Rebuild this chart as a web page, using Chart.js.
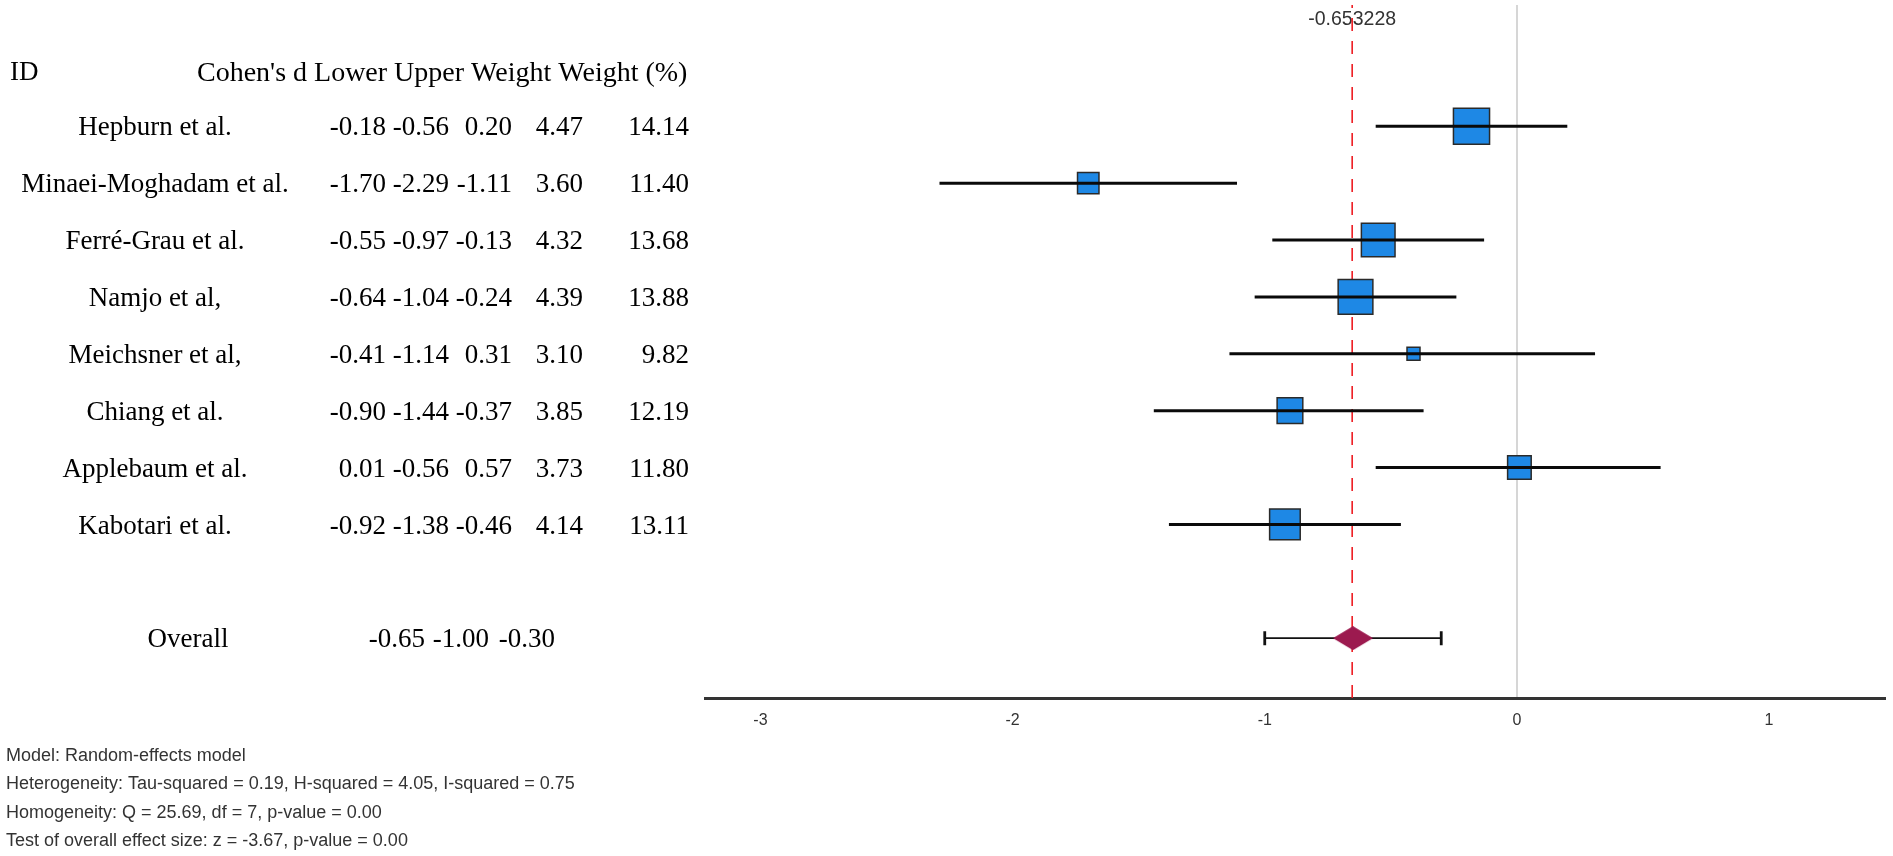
<!DOCTYPE html>
<html>
<head>
<meta charset="utf-8">
<title>Forest plot</title>
<script src="https://cdn.jsdelivr.net/npm/chart.js@4.4.1/dist/chart.umd.min.js"></script>
<style>
  html, body { margin: 0; padding: 0; background: #fff; overflow: hidden; }
  #wrap { position: relative; width: 1893px; height: 856px; }
  canvas { display: block; }
</style>
</head>
<body>
<div id="wrap"><canvas id="forest" width="1893" height="856"></canvas></div>
<script>
// --- Data ---
const studies = ['Hepburn et al.', 'Minaei-Moghadam et al.', 'Ferré-Grau et al.', 'Namjo et al,',
                 'Meichsner et al,', 'Chiang et al.', 'Applebaum et al.', 'Kabotari et al.'];
const cohensD   = [-0.18, -1.70, -0.55, -0.64, -0.41, -0.90, 0.01, -0.92];
const lowerCI   = [-0.56, -2.29, -0.97, -1.04, -1.14, -1.44, -0.56, -1.38];
const upperCI   = [0.20, -1.11, -0.13, -0.24, 0.31, -0.37, 0.57, -0.46];
const weights   = [4.47, 3.60, 4.32, 4.39, 3.10, 3.85, 3.73, 4.14];
const weightPct = [14.14, 11.40, 13.68, 13.88, 9.82, 12.19, 11.80, 13.11];
const overall   = [-0.65, -1.00, -0.30]; // estimate, lower, upper
const pooledLine = -0.653228;
const xTicks = [-3, -2, -1, 0, 1];
const headerCols = ['ID', "Cohen's d Lower Upper Weight Weight (%)"];
const footnotes = [
    'Model: Random-effects model',
    'Heterogeneity: Tau-squared = 0.19, H-squared = 4.05, I-squared = 0.75',
    'Homogeneity: Q = 25.69, df = 7, p-value = 0.00',
    'Test of overall effect size: z = -3.67, p-value = 0.00'
];

const overallRow = studies.length + 2;   // one blank row under the studies
const minPct = Math.min(...weightPct);

// box side grows with the study weight
function boxSide(pct) {
    return 13 + (pct - minPct) * 5.35;
}

// --- Diamond marker for the pooled estimate ---
function makeDiamond(w, h, color) {
    const c = document.createElement('canvas');
    c.width = w;
    c.height = h;
    const g = c.getContext('2d');
    g.fillStyle = color;
    g.beginPath();
    g.moveTo(0, h / 2);
    g.lineTo(w / 2, 0);
    g.lineTo(w, h / 2);
    g.lineTo(w / 2, h);
    g.closePath();
    g.fill();
    return c;
}
const diamond = makeDiamond(40, 24, '#9c1a4f');

// --- Datasets ---
const ciSets = studies.map((s, i) => ({
    label: s,
    data: [{ x: lowerCI[i], y: i + 1 }, { x: upperCI[i], y: i + 1 }],
    showLine: true,
    borderColor: '#0a0a0a',
    borderWidth: 3,
    pointRadius: 0,
    order: 1
}));

const boxSet = {
    label: 'effect',
    data: cohensD.map((d, i) => ({ x: d, y: i + 1 })),
    pointStyle: 'rect',
    pointRadius: ctx => boxSide(weightPct[ctx.dataIndex]) / Math.SQRT2,
    backgroundColor: '#1e88e5',
    borderColor: '#2a2a2a',
    borderWidth: 1.5,
    order: 2
};

const overallCI = {
    label: 'overall ci',
    data: [{ x: overall[1], y: overallRow }, { x: overall[2], y: overallRow }],
    showLine: true,
    borderColor: '#111',
    borderWidth: 1.8,
    pointStyle: 'line',
    rotation: 90,
    pointRadius: 7,
    pointBorderColor: '#111',
    pointBorderWidth: 2.8,
    order: 1
};

const overallPoint = {
    label: 'overall',
    data: [{ x: overall[0], y: overallRow }],
    pointStyle: diamond,
    order: 0
};

// --- Reference line, table and notes ---
const forestText = {
    id: 'forestText',
    beforeDatasetsDraw(chart) {
        const { ctx, chartArea, scales: { x } } = chart;
        const px = x.getPixelForValue(pooledLine);
        ctx.save();
        ctx.font = '19.5px "Liberation Sans"';
        ctx.fillStyle = '#333';
        ctx.textAlign = 'center';
        ctx.textBaseline = 'middle';
        ctx.fillText(String(pooledLine), px, 20);
        ctx.strokeStyle = '#ee1d23';
        ctx.lineWidth = 1.6;
        ctx.setLineDash([13, 10]);
        ctx.lineDashOffset = 10;
        ctx.beginPath();
        ctx.moveTo(px, chartArea.top);
        ctx.lineTo(px, chartArea.bottom);
        ctx.stroke();
        ctx.restore();
    },
    afterDraw(chart) {
        const { ctx, scales: { y } } = chart;
        const colRight = [386, 449, 512, 583, 689];
        const overallRight = [425, 489, 555];
        ctx.save();
        ctx.fillStyle = '#000';
        ctx.textBaseline = 'middle';

        let py = y.getPixelForValue(0) + 4;
        ctx.textAlign = 'left';
        ctx.font = '27px "Liberation Serif"';
        ctx.fillText(headerCols[0], 10, py);
        ctx.font = '28px "Liberation Serif"';
        ctx.fillText(headerCols[1], 197, py);

        ctx.font = '27px "Liberation Serif"';
        studies.forEach((name, i) => {
            py = y.getPixelForValue(i + 1) + 2;
            ctx.textAlign = 'center';
            ctx.fillText(name, 155, py);
            ctx.textAlign = 'right';
            [cohensD[i], lowerCI[i], upperCI[i], weights[i], weightPct[i]].forEach((v, k) => {
                ctx.fillText(v.toFixed(2), colRight[k], py);
            });
        });

        py = y.getPixelForValue(overallRow) + 2;
        ctx.textAlign = 'center';
        ctx.fillText('Overall', 188, py);
        ctx.textAlign = 'right';
        overall.forEach((v, k) => ctx.fillText(v.toFixed(2), overallRight[k], py));

        // model notes under the axis
        ctx.font = '18px "Liberation Sans"';
        ctx.fillStyle = '#333';
        ctx.textAlign = 'left';
        footnotes.forEach((t, k) => ctx.fillText(t, 6, 756 + k * 28.5));
        ctx.restore();
    }
};

// --- Chart ---
const ctx = document.getElementById('forest').getContext('2d');
new Chart(ctx, {
    type: 'scatter',
    data: { datasets: [overallPoint, overallCI, ...ciSets, boxSet] },
    options: {
        responsive: false,
        animation: false,
        layout: { autoPadding: false, padding: { left: 705, right: 8, top: 5, bottom: 114 } },
        plugins: {
            legend: { display: false },
            tooltip: { enabled: false }
        },
        scales: {
            x: {
                type: 'linear',
                min: -3.22,
                max: 1.46,
                afterBuildTicks: axis => { axis.ticks = xTicks.map(v => ({ value: v })); },
                grid: {
                    color: c => (c.tick && c.tick.value === 0 ? '#d6d6d6' : 'rgba(0,0,0,0)'),
                    lineWidth: 2,
                    drawTicks: false
                },
                border: { color: '#333', width: 3 },
                ticks: {
                    color: '#333',
                    font: { family: 'Liberation Sans', size: 16 },
                    padding: 12
                }
            },
            y: {
                type: 'linear',
                display: false,
                reverse: true,
                min: -1.132,
                max: 11.066
            }
        }
    },
    plugins: [forestText]
});
</script>
</body>
</html>
